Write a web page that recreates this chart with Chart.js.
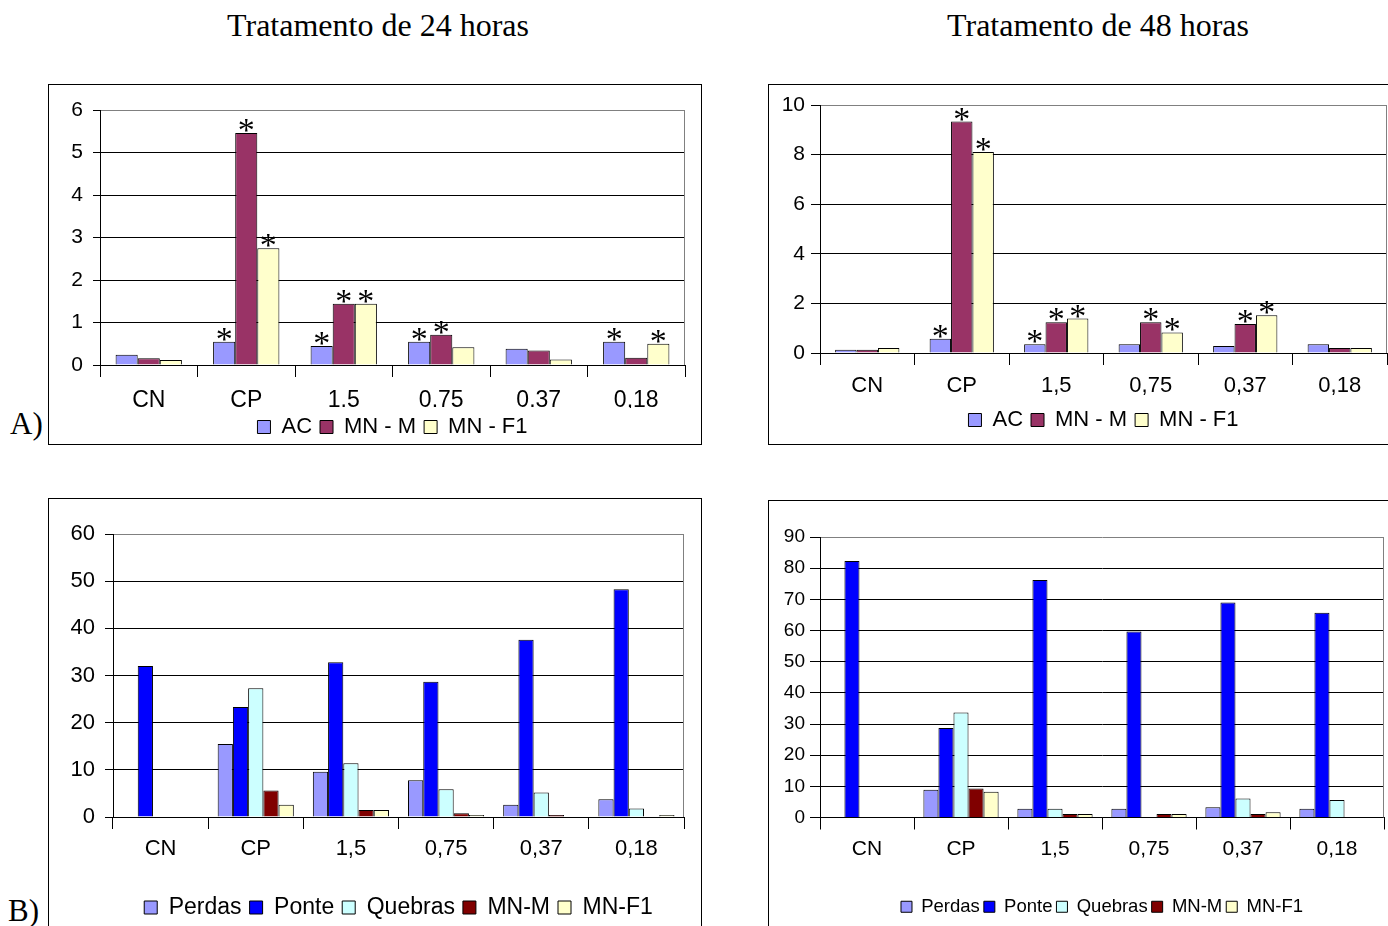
<!DOCTYPE html>
<html>
<head>
<meta charset="utf-8">
<script src="https://cdn.jsdelivr.net/npm/chart.js@4.4.1/dist/chart.umd.min.js"></script>
<style>
  body { margin: 0; background: #fff; width: 1388px; height: 926px; overflow: hidden; position: relative; }
  .title { position: absolute; top: 7px; font: 32px "Liberation Serif", "Times New Roman", serif; color: #000; white-space: nowrap; transform: translateX(-50%); }
  .tag { position: absolute; font: 31px "Liberation Serif", "Times New Roman", serif; color: #000; }
  .box { position: absolute; border: 1px solid #000; box-sizing: border-box; background: #fff; }
  canvas { position: absolute; }
</style>
</head>
<body>
<div class="title" style="left:378px">Tratamento de 24 horas</div>
<div class="title" style="left:1098px">Tratamento de 48 horas</div>

<div class="box" style="left:48px;top:84px;width:654px;height:361px"></div>
<div class="box" style="left:768px;top:84px;width:640px;height:361px"></div>
<div class="box" style="left:48px;top:498px;width:654px;height:460px"></div>
<div class="box" style="left:768px;top:500px;width:640px;height:460px"></div>

<canvas id="a24" width="651" height="363" style="left:49px;top:85px"></canvas>
<canvas id="a48" width="619" height="356" style="left:769px;top:85px"></canvas>
<canvas id="b24" width="651" height="430" style="left:49px;top:499px"></canvas>
<canvas id="b48" width="619" height="425" style="left:769px;top:501px"></canvas>

<div class="tag" style="left:10px;top:406px">A)</div>
<div class="tag" style="left:8px;top:893px">B)</div>

<script>
// ---- data ----
const catsA24 = ['CN', 'CP', '1.5', '0.75', '0.37', '0,18'];
const catsA48 = ['CN', 'CP', '1,5', '0,75', '0,37', '0,18'];
const catsB = ['CN', 'CP', '1,5', '0,75', '0,37', '0,18'];

const namesA = ['AC', 'MN - M', 'MN - F1'];
const namesB = ['Perdas', 'Ponte', 'Quebras', 'MN-M', 'MN-F1'];

// A) 24 h
const acA24 = [0.24, 0.55, 0.45, 0.55, 0.38, 0.55];
const mnmA24 = [0.16, 5.46, 1.44, 0.71, 0.34, 0.17];
const mnf1A24 = [0.12, 2.75, 1.44, 0.42, 0.13, 0.50];
const starsA24 = [
  [0, 1, 1, 1, 0, 1],
  [0, 1, 1, 1, 0, 0],
  [0, 1, 1, 0, 0, 1]
];

// A) 48 h
const acA48 = [0.13, 0.57, 0.35, 0.35, 0.28, 0.35];
const mnmA48 = [0.13, 9.33, 1.24, 1.24, 1.17, 0.20];
const mnf1A48 = [0.20, 8.10, 1.39, 0.83, 1.52, 0.20];
const starsA48 = [
  [0, 1, 1, 0, 0, 0],
  [0, 1, 1, 1, 1, 0],
  [0, 1, 1, 1, 1, 0]
];

// B) 24 h
const perdasB24 = [0, 15.5, 9.6, 7.8, 2.6, 3.75];
const ponteB24 = [32.0, 23.3, 32.8, 28.7, 37.6, 48.3];
const quebrasB24 = [0, 27.3, 11.4, 5.9, 5.2, 1.8];
const mnmB24 = [0, 5.6, 1.5, 0.8, 0.4, 0];
const mnf1B24 = [0, 2.6, 1.5, 0.4, 0, 0.4];

// B) 48 h
const perdasB48 = [0, 8.9, 2.8, 2.8, 3.3, 2.8];
const ponteB48 = [82.3, 28.7, 76.2, 59.7, 69.0, 65.7];
const quebrasB48 = [0, 33.7, 2.8, 0, 6.1, 5.6];
const mnmB48 = [0, 9.3, 1.1, 1.1, 1.1, 0];
const mnf1B48 = [0, 8.3, 1.1, 1.1, 1.7, 0];

// ---- styles ----
const colorsA = ['#9999FF', '#993366', '#FFFFCC'];
const colorsB = ['#9999FF', '#0000FF', '#CCFFFF', '#800000', '#FFFFCC'];
const SANS = '"Liberation Sans", Arial, sans-serif';

// asterisks above significant bars, placed on the library's bar elements
const starPlugin = {
  id: 'stars',
  afterDatasetsDraw(chart, args, opts) {
    if (!opts.marks) return;
    const ctx = chart.ctx;
    ctx.save();
    ctx.font = '34px "Liberation Serif", serif';
    ctx.fillStyle = '#000';
    ctx.textAlign = 'center';
    ctx.textBaseline = 'alphabetic';
    const m = ctx.measureText('*');
    opts.marks.forEach((row, di) => {
      const meta = chart.getDatasetMeta(di);
      row.forEach((on, i) => {
        if (!on) return;
        const bar = meta.data[i];
        ctx.fillText('*', bar.x, bar.y - 1 - m.actualBoundingBoxDescent);
      });
    });
    ctx.restore();
  }
};

// gray right edge of the plot area
const framePlugin = {
  id: 'frame',
  beforeDatasetsDraw(chart) {
    const { ctx, chartArea: a } = chart;
    ctx.save();
    ctx.strokeStyle = '#808080';
    ctx.lineWidth = 1;
    ctx.beginPath();
    ctx.moveTo(Math.round(a.right) - 0.5, a.top);
    ctx.lineTo(Math.round(a.right) - 0.5, a.bottom);
    ctx.stroke();
    ctx.restore();
  }
};

const makeChart = (id, c) => {
  const ctx = document.getElementById(id).getContext('2d');
  new Chart(ctx, {
    type: 'bar',
    data: {
      labels: c.labels,
      datasets: c.series.map((s, i) => ({
        label: c.names[i],
        data: s,
        backgroundColor: c.colors[i],
        borderColor: '#000',
        borderWidth: 1,
        borderSkipped: 'bottom',
        barPercentage: 1,
        categoryPercentage: c.catPct
      }))
    },
    options: {
      responsive: false,
      animation: false,
      layout: { padding: c.padding },
      plugins: {
        legend: {
          position: 'bottom',
          fullSize: false, // centred under the plot area, like the original
          labels: {
            color: '#000',
            boxWidth: c.box,
            boxHeight: c.box,
            padding: c.legendPad,
            font: { family: SANS, size: c.legendSize }
          }
        },
        tooltip: { enabled: false },
        stars: { marks: c.stars }
      },
      scales: {
        x: {
          grid: { offset: true, drawOnChartArea: false, tickLength: 12, color: '#000' },
          border: { color: '#000' },
          ticks: { color: '#000', padding: c.xPad, font: { family: SANS, size: c.xSize } },
          afterFit: s => { s.height = c.xHeight; }
        },
        y: {
          min: 0,
          max: c.max,
          ticks: { stepSize: c.step, color: '#000', padding: c.yPad, font: { family: SANS, size: c.ySize } },
          grid: {
            color: t => (t.tick && t.tick.value === c.max ? '#808080' : '#000'),
            tickColor: '#000',
            tickLength: c.yTick
          },
          border: { color: '#000' },
          afterFit: s => { s.width = c.yWidth; }
        }
      }
    },
    plugins: [starPlugin, framePlugin]
  });
};

makeChart('a24', {
  labels: catsA24, names: namesA, colors: colorsA,
  series: [acA24, mnmA24, mnf1A24], stars: starsA24,
  max: 6, step: 1, catPct: 0.68,
  padding: { left: 0, right: 15, top: 25, bottom: 0 },
  yWidth: 51, yTick: 7, yPad: 10, ySize: 21,
  xHeight: 43, xPad: 10, xSize: 23,
  box: 13, legendSize: 22, legendPad: 8
});

makeChart('a48', {
  labels: catsA48, names: namesA, colors: colorsA,
  series: [acA48, mnmA48, mnf1A48], stars: starsA48,
  max: 10, step: 2, catPct: 0.68,
  padding: { left: 0, right: 1, top: 20, bottom: 0 },
  yWidth: 51, yTick: 9, yPad: 6, ySize: 21,
  xHeight: 48, xPad: 8, xSize: 22,
  box: 13, legendSize: 22, legendPad: 8
});

makeChart('b24', {
  labels: catsB, names: namesB, colors: colorsB,
  series: [perdasB24, ponteB24, quebrasB24, mnmB24, mnf1B24], stars: null,
  max: 60, step: 10, catPct: 0.8,
  padding: { left: 0, right: 16, top: 35, bottom: 0 },
  yWidth: 64, yTick: 8, yPad: 10, ySize: 22,
  xHeight: 71, xPad: 7, xSize: 22,
  box: 13, legendSize: 23, legendPad: 8
});

makeChart('b48', {
  labels: catsB, names: namesB, colors: colorsB,
  series: [perdasB48, ponteB48, quebrasB48, mnmB48, mnf1B48], stars: null,
  max: 90, step: 10, catPct: 0.8,
  padding: { left: 0, right: 4, top: 36, bottom: 0 },
  yWidth: 51, yTick: 10, yPad: 5, ySize: 19,
  xHeight: 76, xPad: 7, xSize: 21,
  box: 11, legendSize: 18.5, legendPad: 4
});
</script>
</body>
</html>
